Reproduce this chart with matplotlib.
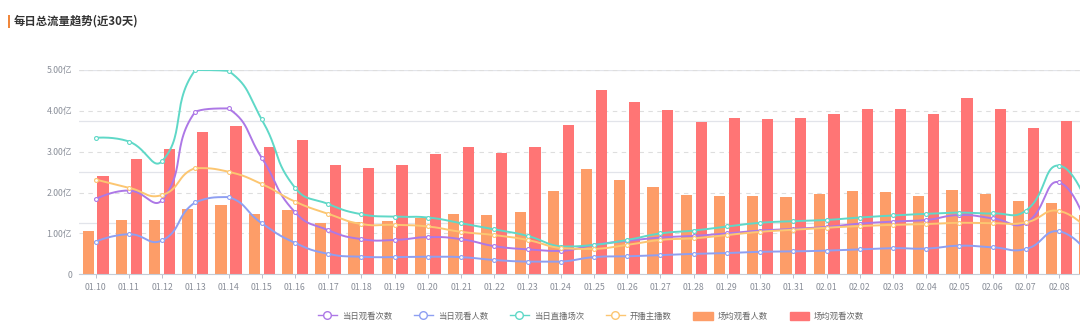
import numpy as np
import matplotlib
matplotlib.use("Agg")
import matplotlib.pyplot as plt
from matplotlib.lines import Line2D
from matplotlib.patches import Patch, Rectangle

plt.rcParams['font.family'] = ['Noto Sans CJK SC', 'DejaVu Sans']

# daily traffic, last 30 days (unit: 亿)
dates = ['01.10', '01.11', '01.12', '01.13', '01.14', '01.15', '01.16', '01.17',
         '01.18', '01.19', '01.20', '01.21', '01.22', '01.23', '01.24', '01.25',
         '01.26', '01.27', '01.28', '01.29', '01.30', '01.31', '02.01', '02.02',
         '02.03', '02.04', '02.05', '02.06', '02.07', '02.08', '02.09']

watch_times = [1.84, 2.05, 1.82, 3.98, 4.06, 2.85, 1.52, 1.08, 0.86, 0.84, 0.91,
               0.86, 0.69, 0.61, 0.57, 0.72, 0.82, 0.90, 0.94, 1.00, 1.07, 1.11,
               1.16, 1.24, 1.29, 1.33, 1.45, 1.37, 1.26, 2.25, 0.75]
viewers = [0.80, 0.98, 0.83, 1.76, 1.89, 1.25, 0.77, 0.50, 0.43, 0.42, 0.43,
           0.42, 0.35, 0.31, 0.31, 0.42, 0.44, 0.47, 0.50, 0.52, 0.55, 0.56,
           0.58, 0.61, 0.64, 0.63, 0.70, 0.66, 0.62, 1.05, 0.36]
sessions = [3.34, 3.25, 2.77, 5.00, 4.98, 3.79, 2.12, 1.72, 1.47, 1.41, 1.39,
            1.25, 1.10, 0.94, 0.68, 0.72, 0.84, 1.00, 1.07, 1.17, 1.26, 1.30,
            1.33, 1.39, 1.44, 1.48, 1.51, 1.49, 1.56, 2.66, 1.38]
anchors = [2.32, 2.12, 1.94, 2.60, 2.51, 2.21, 1.78, 1.48, 1.23, 1.21, 1.17,
           1.04, 0.96, 0.84, 0.64, 0.62, 0.72, 0.84, 0.88, 0.96, 1.04, 1.09,
           1.14, 1.18, 1.21, 1.23, 1.26, 1.25, 1.27, 1.55, 0.96]
avg_viewers = [1.05, 1.32, 1.34, 1.59, 1.69, 1.48, 1.57, 1.25, 1.29, 1.30, 1.38,
               1.48, 1.45, 1.53, 2.05, 2.58, 2.30, 2.14, 1.95, 1.92, 1.92, 1.89,
               1.96, 2.03, 2.01, 1.91, 2.07, 1.97, 1.79, 1.74, 1.45]
avg_times = [2.40, 2.82, 3.06, 3.48, 3.64, 3.12, 3.28, 2.67, 2.59, 2.67, 2.94,
             3.12, 2.96, 3.11, 3.66, 4.52, 4.22, 4.02, 3.73, 3.82, 3.79, 3.83,
             3.93, 4.04, 4.05, 3.93, 4.32, 4.05, 3.58, 3.76, 3.50]

line_series = [
    ('当日观看次数', watch_times, '#ad78e6'),
    ('当日观看人数', viewers, '#8e9ff2'),
    ('当日直播场次', sessions, '#5fd8c7'),
    ('开播主播数', anchors, '#fcc671'),
]
bar_series = [
    ('场均观看人数', avg_viewers, '#fd9d68'),
    ('场均观看次数', avg_times, '#ff7575'),
]


def smooth_curve(ax, xs, ys, smooth=0.5, steps=30):
    # bezier smoothing done in screen space, control points kept inside the bbox
    pts = ax.transData.transform(np.column_stack([xs, ys]))
    lo, hi = pts.min(axis=0), pts.max(axis=0)
    cps = [pts[0]]
    for i in range(1, len(pts) - 1):
        prev, p, nxt = pts[i - 1], pts[i], pts[i + 1]
        v = (nxt - prev) * smooth
        d0 = np.hypot(*(p - prev))
        d1 = np.hypot(*(nxt - p))
        cps.append(np.clip(p - v * d0 / (d0 + d1), lo, hi))
        cps.append(np.clip(p + v * d1 / (d0 + d1), lo, hi))
    cps.append(pts[-1])
    t = np.linspace(0, 1, steps)[:, None]
    out = []
    for i in range(len(pts) - 1):
        p0, c0, c1, p1 = pts[i], cps[2 * i], cps[2 * i + 1], pts[i + 1]
        seg = (1 - t) ** 3 * p0 + 3 * (1 - t) ** 2 * t * c0 + 3 * (1 - t) * t ** 2 * c1 + t ** 3 * p1
        out.append(seg if i == 0 else seg[1:])
    return ax.transData.inverted().transform(np.vstack(out))


fig = plt.figure(figsize=(10.8, 3.28), dpi=100)
# plot area runs past the right edge, so the last day is cut off
ax = fig.add_axes([79 / 1080, 53.7 / 328, 1030 / 1080, 204.3 / 328])
ax2 = ax.twinx()
ax.set_zorder(2)
ax.patch.set_visible(False)
ax2.set_zorder(1)

x = np.arange(len(dates))
ax.set_xlim(-0.5, len(dates) - 0.5)
ax.set_ylim(0, 5)

# secondary scale only supplies the solid grid lines
ax2.set_ylim(0, 4)
ax2.set_yticks([1, 2, 3, 4])
ax2.grid(True, axis='y', color='#e2e4ea', lw=0.9)
ax2.tick_params(right=False, labelright=False)
for s in ax2.spines.values():
    s.set_visible(False)

ax.set_axisbelow(True)
ax.set_yticks([0, 1, 2, 3, 4, 5])
ax.set_yticklabels(['0'] + ['%.2f亿' % v for v in [1, 2, 3, 4, 5]])
ax.yaxis.grid(True, color='#dedede', lw=0.8, linestyle=(0, (4, 4)))
ax.set_xticks(x)
ax.set_xticklabels(dates)
ax.get_xticklabels()[-1].set_visible(False)  # falls outside the canvas
ax.tick_params(axis='y', length=0, pad=5, labelsize=6.3, labelcolor='#8a8f99')
ax.tick_params(axis='x', length=3, width=0.7, color='#b8bfcc', pad=3,
               labelsize=6.3, labelcolor='#8a8f99')
for side in ['top', 'right', 'left']:
    ax.spines[side].set_visible(False)
ax.spines['bottom'].set_color('#c6ccd6')
ax.spines['bottom'].set_linewidth(0.8)

bw = 0.337
ax.bar(x - 0.224, avg_viewers, width=bw, color=bar_series[0][2], zorder=2)
ax.bar(x + 0.224, avg_times, width=bw, color=bar_series[1][2], zorder=2)

for name, vals, color in line_series:
    curve = smooth_curve(ax, x, vals)
    ax.plot(curve[:, 0], curve[:, 1], color=color, lw=1.4, zorder=3)
    ax.plot(x, vals, 'o', ms=2.8, mfc='white', mec=color, mew=0.8, zorder=4)

# title with accent bar
fig.add_artist(Rectangle((7.5 / 1080, 1 - 27.5 / 328), 2 / 1080, 12.5 / 328,
                         transform=fig.transFigure, color='#f0873c', lw=0))
fig.text(14 / 1080, 1 - 21.5 / 328, '每日总流量趋势(近30天)', fontsize=8.2,
         fontweight='bold', color='#333333', va='center')

handles = [Line2D([0], [0], color=c, lw=1, marker='o', ms=5.5, mfc='white',
                  mec=c, mew=1) for _, _, c in line_series]
handles += [Patch(color=c) for _, _, c in bar_series]
labels = [n for n, _, _ in line_series] + [n for n, _, _ in bar_series]
fig.legend(handles, labels, loc='center', bbox_to_anchor=(0.547, 1 - 316 / 328),
           ncol=6, frameon=False, fontsize=6, handlelength=2.3, handleheight=1.1,
           columnspacing=2.6, handletextpad=0.6, labelcolor='#666666')

fig.savefig('out.png', dpi=100)
